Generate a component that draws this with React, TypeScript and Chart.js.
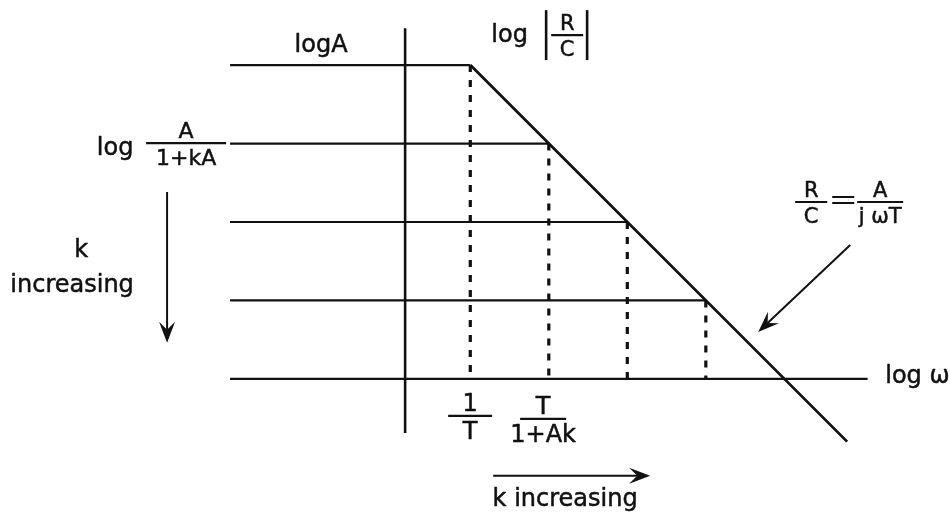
import { useEffect, useRef } from "react";
import { Chart, registerables } from "chart.js";

Chart.register(...registerables);

// Closed-loop gain plateaus (log scale): k = 0 on top, k increasing downward
const gainLevels = [4, 3, 2, 1];
// Corner frequencies (log ω) where each plateau meets the open-loop asymptote
const cornerFreqs = [0.83, 1.83, 2.83, 3.83];
// Where the plateaus begin on the left
const plateauStart = -2.23;
// Open-loop asymptote R/C = A/(jωT), slope -1
const asymptoteW = [0.83, 5.63];
const asymptoteGain = [4, -0.8];
// log ω axis extent and vertical reference axis extent
const omegaAxisW = [-2.23, 5.89];
const gainAxisGain = [-0.69, 4.47];

const INK = "#111111";
const FONT = '"DejaVu Sans", sans-serif';

function line(points: { x: number; y: number }[], width: number, dash: number[] = []) {
  return {
    data: points,
    showLine: true,
    borderColor: INK,
    backgroundColor: INK,
    borderWidth: width,
    borderDash: dash,
    pointRadius: 0,
    tension: 0,
    fill: false,
  };
}

const annotations = {
  id: "bodeAnnotations",
  afterDatasetsDraw(chart: any) {
    const { ctx } = chart;
    const sx = chart.scales.x;
    const sy = chart.scales.y;
    const px = (v: number) => sx.getPixelForValue(v);
    const py = (v: number) => sy.getPixelForValue(v);

    ctx.save();
    ctx.fillStyle = INK;
    ctx.strokeStyle = INK;
    ctx.lineCap = "butt";
    ctx.lineJoin = "round";

    // slightly heavier glyphs, like a printed figure
    const ink = (s: string, x: number, y: number) => {
      ctx.fillText(s, x, y);
      const lw = ctx.lineWidth;
      ctx.lineWidth = 0.5;
      ctx.strokeText(s, x, y);
      ctx.lineWidth = lw;
    };

    const text = (s: string, wx: number, wy: number, size: number, align: CanvasTextAlign = "center") => {
      ctx.font = `${size}px ${FONT}`;
      ctx.textAlign = align;
      ctx.textBaseline = "alphabetic";
      ink(s, px(wx), py(wy));
    };

    const fraction = (num: string, den: string, cx: number, barY: number, halfW: number, size: number) => {
      const x = px(cx);
      const y = py(barY);
      ctx.lineWidth = 2.2;
      ctx.beginPath();
      ctx.moveTo(x - halfW, y);
      ctx.lineTo(x + halfW, y);
      ctx.stroke();
      ctx.font = `${size}px ${FONT}`;
      ctx.textAlign = "center";
      ctx.textBaseline = "alphabetic";
      ink(num, x, y - 5);
      ink(den, x, y + 6 + size * 0.73);
    };

    const arrow = (x1: number, y1: number, x2: number, y2: number) => {
      const ax = px(x1), ay = py(y1), bx = px(x2), by = py(y2);
      const ang = Math.atan2(by - ay, bx - ax);
      const len = 21, half = 8, notch = 13;
      const c = Math.cos(ang), s = Math.sin(ang);
      ctx.lineWidth = 2;
      ctx.beginPath();
      ctx.moveTo(ax, ay);
      ctx.lineTo(bx - c * notch, by - s * notch);
      ctx.stroke();
      ctx.beginPath();
      ctx.moveTo(bx, by);
      ctx.lineTo(bx - c * len - s * half, by - s * len + c * half);
      ctx.lineTo(bx - c * notch, by - s * notch);
      ctx.lineTo(bx - c * len + s * half, by - s * len - c * half);
      ctx.closePath();
      ctx.fill();
    };

    // Top labels
    text("logA", -1.07, 4.166, 24);
    text("log", 1.331, 4.293, 24);
    ctx.lineWidth = 2.6;
    for (const bx of [1.796, 2.318]) {
      ctx.beginPath();
      ctx.moveTo(px(bx), py(4.701));
      ctx.lineTo(px(bx), py(4.064));
      ctx.stroke();
    }
    fraction("R", "C", 2.064, 4.382, 16, 21);

    // Left side: closed-loop gain and k direction
    text("log", -3.694, 2.854, 24);
    fraction("A", "1+kA", -2.79, 3.006, 40, 22);
    text("k", -4.127, 1.554, 24);
    text("increasing", -4.242, 1.108, 24);
    arrow(-3.032, 2.382, -3.032, 0.459);

    // Corner frequency labels
    fraction("1", "T", 0.828, -0.471, 22, 24);
    fraction("T", "1+Ak", 1.758, -0.51, 23, 24);

    // Bottom k direction
    arrow(1.121, -1.236, 3.121, -1.236);
    text("k increasing", 2.038, -1.618, 24);

    // Frequency axis label
    text("log ω", 6.115, -0.051, 24, "left");

    // Asymptote label and pointer
    fraction("R", "C", 5.172, 2.255, 16, 21);
    {
      // equals sign between the two fractions
      const ex = px(5.58), ey = py(2.28);
      ctx.lineWidth = 2.2;
      ctx.beginPath();
      ctx.moveTo(ex - 11, ey - 3);
      ctx.lineTo(ex + 11, ey - 3);
      ctx.moveTo(ex - 11, ey + 3);
      ctx.lineTo(ex + 11, ey + 3);
      ctx.stroke();
    }
    fraction("A", "j ωT", 6.051, 2.255, 23, 21);
    arrow(5.669, 1.707, 4.497, 0.599);

    ctx.restore();
  },
};

export default function App() {
  const canvasRef = useRef<HTMLCanvasElement | null>(null);

  useEffect(() => {
    const canvas = canvasRef.current;
    if (!canvas) return;

    const datasets: any[] = [];
    // Closed-loop plateaus
    gainLevels.forEach((g, i) => {
      datasets.push(line([{ x: plateauStart, y: g }, { x: cornerFreqs[i], y: g }], 2.2));
    });
    // Open-loop asymptote
    datasets.push(
      line(
        [
          { x: asymptoteW[0], y: asymptoteGain[0] },
          { x: asymptoteW[1], y: asymptoteGain[1] },
        ],
        2.8
      )
    );
    // log ω axis
    datasets.push(line([{ x: omegaAxisW[0], y: 0 }, { x: omegaAxisW[1], y: 0 }], 2.2));
    // vertical reference axis
    datasets.push(line([{ x: 0, y: gainAxisGain[0] }, { x: 0, y: gainAxisGain[1] }], 2.6));
    // Dashed drops from each corner to the frequency axis
    gainLevels.forEach((g, i) => {
      datasets.push(line([{ x: cornerFreqs[i], y: g }, { x: cornerFreqs[i], y: 0 }], 3.2, [7, 8]));
    });

    const chart = new Chart(canvas, {
      type: "scatter",
      data: { datasets },
      options: {
        responsive: false,
        maintainAspectRatio: false,
        animation: false,
        events: [],
        layout: { padding: 0 },
        plugins: {
          legend: { display: false },
          tooltip: { enabled: false },
        },
        scales: {
          x: { type: "linear", min: -5.16, max: 6.94, display: false },
          y: { type: "linear", min: -1.71, max: 4.83, display: false },
        },
      },
      plugins: [annotations],
    });

    return () => chart.destroy();
  }, []);

  return (
    <div style={{ position: "fixed", left: 0, top: 0, width: 950, height: 513, background: "#ffffff" }}>
      <canvas ref={canvasRef} width={950} height={513} style={{ display: "block" }} />
    </div>
  );
}
